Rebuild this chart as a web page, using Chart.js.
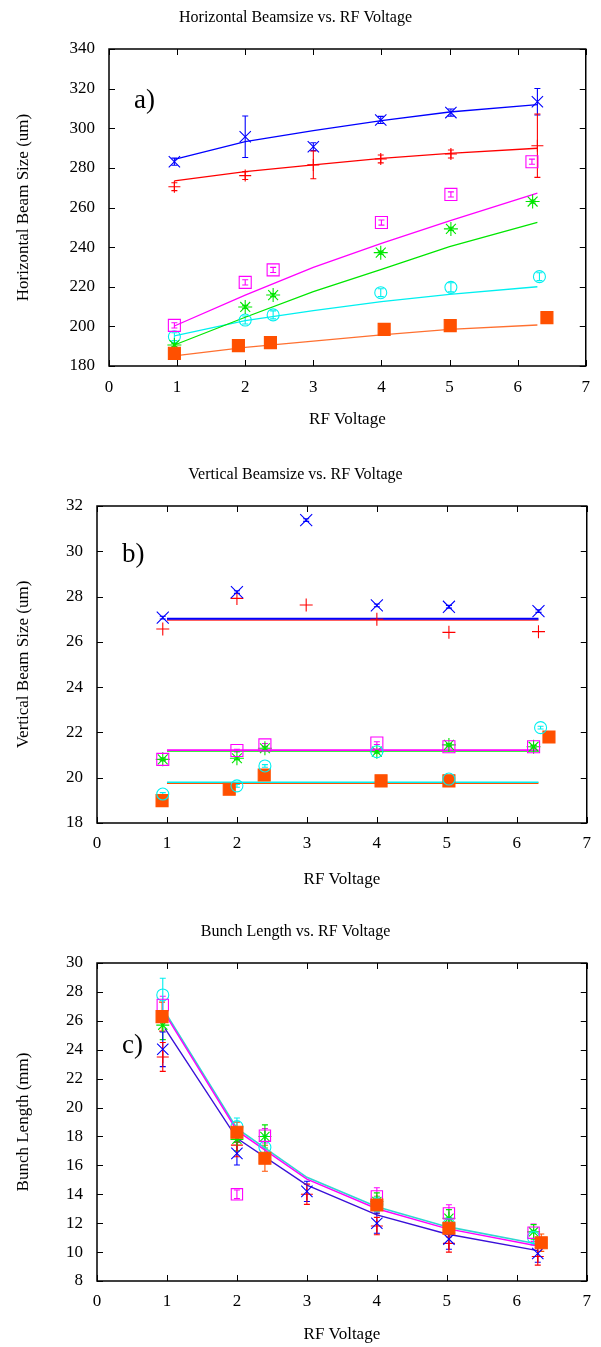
<!DOCTYPE html>
<html lang="en">
<head>
<meta charset="utf-8">
<title>Beamsize and Bunch Length vs. RF Voltage</title>
<script src="https://cdn.jsdelivr.net/npm/chart.js@4.4.0/dist/chart.umd.min.js"></script>
<style>
  body { margin: 0; background: #fff; }
  #page { position: relative; width: 601px; height: 1347px; }
  .panel { position: absolute; left: 0; width: 601px; }
</style>
</head>
<body>
<div id="page">
  <div class="panel" style="top:0;height:440px"><canvas id="chartA"></canvas></div>
  <div class="panel" style="top:456px;height:440px"><canvas id="chartB"></canvas></div>
  <div class="panel" style="top:913px;height:434px"><canvas id="chartC"></canvas></div>
</div>
<script>
// ---- data: a) horizontal beam size (um)
var hBlueX = [0.96, 2.0, 3.0, 3.99, 5.02, 6.29];
var hBlue = [283.1, 295.7, 290.7, 304.2, 307.9, 313.4];
var hBlueErr = [1.8, 10.5, 2, 1.8, 1.8, 6.7];
var hRedX = [0.96, 2.0, 3.0, 3.99, 5.02, 6.29];
var hRed = [270.5, 276.1, 281.5, 284.5, 287.0, 291.2];
var hRedErr = [2, 2, 7, 2, 2, 16];
var hMagX = [0.96, 2.0, 2.41, 4.0, 5.02, 6.21];
var hMag = [200.5, 222.2, 228.5, 252.4, 266.6, 283.1];
var hMagErr = [1.3, 1.3, 1.3, 1.3, 1.3, 1.3];
var hGreenX = [0.96, 2.0, 2.41, 3.99, 5.02, 6.22];
var hGreen = [190.6, 209.8, 215.8, 237.2, 249.2, 263.0];
var hGreenErr = [0.8, 0.8, 0.8, 0.8, 0.8, 0.8];
var hCyanX = [0.96, 2.0, 2.41, 3.99, 5.02, 6.32];
var hCyan = [194.8, 203.2, 205.8, 217.0, 219.7, 225.1];
var hCyanErr = [2, 2, 2, 2, 2.3, 2];
var hOrangeX = [0.96, 1.9, 2.37, 4.04, 5.01, 6.43];
var hOrange = [186.4, 190.3, 191.8, 198.5, 200.4, 204.4];
var hFitX = [0.96, 2, 3, 4, 5, 6.29];
var hBlueFit = [284.3, 293.2, 298.8, 303.8, 308.2, 311.9];
var hRedFit = [273.4, 278.1, 281.5, 284.8, 287.3, 289.9];
var hMagFit = [200.2, 215.8, 229.8, 241.9, 253.2, 267.2];
var hGreenFit = [190.6, 204.6, 217.5, 228.8, 240.2, 252.5];
var hCyanFit = [195.2, 202.9, 207.9, 212.5, 216.2, 220.0];
var hOrangeFit = [185.1, 189.4, 192.6, 195.7, 198.5, 200.7];

// ---- data: b) vertical beam size (um)
var vBlueX = [0.94, 2.0, 2.99, 4.0, 5.03, 6.31];
var vBlue = [27.07, 28.2, 31.38, 27.61, 27.55, 27.36];
var vRed = [26.57, 27.92, 27.63, 27.0, 26.42, 26.45];
var vMagX = [0.94, 2.0, 2.4, 4.0, 5.03, 6.24];
var vMag = [20.81, 21.2, 21.45, 21.53, 21.37, 21.37];
var vGreen = [20.81, 20.86, 21.3, 21.15, 21.45, 21.37];
var vCyanX = [0.94, 2.0, 2.4, 4.0, 5.03, 6.34];
var vCyan = [19.28, 19.64, 20.52, 21.15, 19.94, 22.21];
var vOrangeX = [0.93, 1.89, 2.39, 4.06, 5.03, 6.46];
var vOrange = [18.99, 19.49, 20.12, 19.86, 19.86, 21.8];
var vSmallErr = [0.06, 0.06, 0.06, 0.06, 0.06, 0.06];
var vFitX = [1.0, 6.31];
var vBlueFit = [27.02, 27.02];
var vRedFit = [26.96, 26.96];
var vMagFit = [21.22, 21.22];
var vGreenFit = [21.18, 21.18];
var vCyanFit = [19.8, 19.8];
var vOrangeFit = [19.76, 19.76];

// ---- data: c) bunch length (mm)
var bBlueX = [0.94, 2.0, 3.0, 4.0, 5.03, 6.3];
var bBlue = [24.03, 16.83, 14.2, 12.0, 10.9, 9.9];
var bBlueErr = [1.2, 0.8, 0.7, 0.7, 0.7, 0.6];
var bRed = [23.5, 17.4, 14.0, 11.8, 10.6, 9.7];
var bRedErr = [1.0, 0.8, 0.7, 0.6, 0.6, 0.6];
var bMagX = [0.94, 2.0, 2.4, 4.0, 5.03, 6.24];
var bMag = [27.1, 14.0, 18.05, 13.85, 12.68, 11.34];
var bMagErr = [0.6, 0.3, 0.5, 0.6, 0.6, 0.6];
var bGreen = [25.7, 17.8, 18.0, 13.5, 12.34, 11.4];
var bGreenErr = [1.0, 0.8, 0.8, 0.6, 0.6, 0.5];
var bCyan = [27.79, 18.68, 17.25, 13.3, 11.9, 11.0];
var bCyanErr = [1.15, 0.6, 0.8, 0.5, 0.5, 0.5];
var bOrangeX = [0.93, 2.0, 2.4, 4.0, 5.03, 6.35];
var bOrange = [26.29, 18.29, 16.49, 13.26, 11.65, 10.65];
var bOrangeErr = [1.0, 0.7, 0.9, 0.6, 0.6, 0.6];
var bFitX = [0.97, 2, 3, 4, 5, 6.3];
var bBlueFit = [25.48, 17.87, 14.64, 12.57, 11.25, 10.1];
var bMagFit = [26.5, 18.4, 15.05, 13.0, 11.62, 10.42];
var bCyanFit = [26.63, 18.56, 15.17, 13.14, 11.76, 10.56];

var xTicks = [0, 1, 2, 3, 4, 5, 6, 7];

// ---- styles
var BLUE = '#0000ff', RED = '#ff0000', MAG = '#ff00ff', GREEN = '#00e600', CYAN = '#00f0f0', ORANGE = '#ff5000';
var SERIF = '"Liberation Serif", "Times New Roman", serif';

function pts(xs, ys) {
  return xs.map(function (x, i) { return { x: x, y: ys[i] }; });
}

function marks(xs, ys, errs, color, style, r, filled) {
  return {
    data: pts(xs, ys),
    errs: errs,
    showLine: false,
    pointStyle: style,
    pointRadius: r,
    pointHoverRadius: r,
    pointBorderWidth: 1.1,
    borderColor: color,
    backgroundColor: filled ? color : 'rgba(0,0,0,0)'
  };
}

function fit(xs, ys, color, w) {
  return {
    data: pts(xs, ys),
    showLine: true,
    pointRadius: 0,
    borderWidth: w || 1.3,
    borderColor: color,
    backgroundColor: color
  };
}

// error bars, drawn under the markers
var errorBars = {
  id: 'errorBars',
  beforeDatasetsDraw: function (chart) {
    var ctx = chart.ctx, xs = chart.scales.x, ys = chart.scales.y;
    ctx.save();
    ctx.lineWidth = 1.1;
    chart.data.datasets.forEach(function (ds) {
      if (!ds.errs) return;
      ctx.strokeStyle = ds.borderColor;
      ds.data.forEach(function (p, i) {
        var e = ds.errs[i];
        if (!e) return;
        var px = xs.getPixelForValue(p.x);
        var y1 = ys.getPixelForValue(p.y + e), y2 = ys.getPixelForValue(p.y - e);
        ctx.beginPath();
        ctx.moveTo(px, y1); ctx.lineTo(px, y2);
        ctx.moveTo(px - 3, y1); ctx.lineTo(px + 3, y1);
        ctx.moveTo(px - 3, y2); ctx.lineTo(px + 3, y2);
        ctx.stroke();
      });
    });
    ctx.restore();
  }
};

// gnuplot style box with inward ticks + panel letter
var frame = {
  id: 'frame',
  afterDraw: function (chart, args, opts) {
    var ctx = chart.ctx, a = chart.chartArea;
    var xs = chart.scales.x, ys = chart.scales.y;
    ctx.save();
    ctx.strokeStyle = '#000';
    ctx.lineWidth = 1.5;
    ctx.strokeRect(a.left, a.top, a.right - a.left, a.bottom - a.top);
    ctx.lineWidth = 1;
    ctx.beginPath();
    xs.ticks.forEach(function (t) {
      var px = Math.round(xs.getPixelForValue(t.value)) + 0.5;
      ctx.moveTo(px, a.bottom); ctx.lineTo(px, a.bottom - 6);
      ctx.moveTo(px, a.top); ctx.lineTo(px, a.top + 6);
    });
    ys.ticks.forEach(function (t) {
      var py = Math.round(ys.getPixelForValue(t.value)) + 0.5;
      ctx.moveTo(a.left, py); ctx.lineTo(a.left + 6, py);
      ctx.moveTo(a.right, py); ctx.lineTo(a.right - 6, py);
    });
    ctx.stroke();
    ctx.fillStyle = '#000';
    ctx.font = '27px ' + SERIF;
    ctx.textAlign = 'left';
    ctx.textBaseline = 'middle';
    ctx.fillText(opts.letter, a.left + 25, a.top + opts.dy);
    ctx.restore();
  }
};

function makePanel(id, cfg) {
  return new Chart(document.getElementById(id), {
    type: 'scatter',
    data: { datasets: cfg.datasets },
    plugins: [errorBars, frame],
    options: {
      responsive: true,
      maintainAspectRatio: false,
      animation: false,
      devicePixelRatio: 1,
      layout: { padding: { left: 0, right: 10, top: 0, bottom: 0 } },
      plugins: {
        legend: { display: false },
        tooltip: { enabled: false },
        title: {
          display: true,
          text: cfg.title,
          color: '#000',
          font: { family: SERIF, size: 16, weight: 'normal', lineHeight: 1.2 },
          padding: { top: cfg.titleTop, bottom: cfg.titleBottom }
        },
        frame: { letter: cfg.letter, dy: cfg.letterDy }
      },
      scales: {
        x: {
          type: 'linear', min: 0, max: 7,
          afterBuildTicks: function (s) { s.ticks = xTicks.map(function (v) { return { value: v }; }); },
          grid: { display: false, drawTicks: false },
          border: { display: false },
          ticks: { color: '#000', padding: cfg.xTickPad, font: { family: SERIF, size: 17, lineHeight: 1.2 } },
          title: {
            display: true, text: 'RF Voltage', color: '#000',
            font: { family: SERIF, size: 17, lineHeight: 1.2 },
            padding: { top: 0, bottom: cfg.xTitleBottom }
          },
          afterFit: function (s) { s.height = cfg.xHeight; }
        },
        y: {
          type: 'linear', min: cfg.yMin, max: cfg.yMax,
          grid: { display: false, drawTicks: false },
          border: { display: false },
          ticks: { stepSize: cfg.yStep, color: '#000', padding: 14, font: { family: SERIF, size: 17, lineHeight: 1.2 } },
          title: {
            display: true, text: cfg.yTitle, color: '#000',
            font: { family: SERIF, size: 17, lineHeight: 1.2 },
            padding: { top: 13, bottom: 0 }
          },
          afterFit: function (s) { s.width = cfg.yWidth; }
        }
      }
    }
  });
}

makePanel('chartA', {
  title: 'Horizontal Beamsize vs. RF Voltage', letter: 'a)', letterDy: 52,
  titleTop: 8, titleBottom: 21.8, xTickPad: 11, xTitleBottom: 10, xHeight: 74, yWidth: 109,
  yMin: 180, yMax: 340, yStep: 20, yTitle: 'Horizontal Beam Size (um)',
  datasets: [
    marks(hOrangeX, hOrange, null, ORANGE, 'rect', 8.5, true),
    marks(hBlueX, hBlue, hBlueErr, BLUE, 'crossRot', 8, false),
    marks(hRedX, hRed, hRedErr, RED, 'cross', 6, false),
    marks(hMagX, hMag, hMagErr, MAG, 'rect', 8.5, false),
    marks(hGreenX, hGreen, hGreenErr, GREEN, 'star', 7, false),
    marks(hCyanX, hCyan, hCyanErr, CYAN, 'circle', 6, false),
    fit(hFitX, hBlueFit, BLUE), fit(hFitX, hRedFit, RED), fit(hFitX, hMagFit, MAG),
    fit(hFitX, hGreenFit, GREEN), fit(hFitX, hCyanFit, CYAN), fit(hFitX, hOrangeFit, '#ff7030')
  ]
});

makePanel('chartB', {
  title: 'Vertical Beamsize vs. RF Voltage', letter: 'b)', letterDy: 49,
  titleTop: 9.4, titleBottom: 21.4, xTickPad: 10, xTitleBottom: 6, xHeight: 73, yWidth: 97,
  yMin: 18, yMax: 32, yStep: 2, yTitle: 'Vertical Beam Size (um)',
  datasets: [
    marks(vBlueX, vBlue, vSmallErr, BLUE, 'crossRot', 8.5, false),
    marks(vBlueX, vRed, null, RED, 'cross', 6.5, false),
    marks(vCyanX, vCyan, vSmallErr, CYAN, 'circle', 6, false),
    marks(vMagX, vMag, vSmallErr, MAG, 'rect', 8.5, false),
    marks(vMagX, vGreen, vSmallErr, GREEN, 'star', 7, false),
    marks(vOrangeX, vOrange, null, ORANGE, 'rect', 8.5, true),
    fit(vFitX, vBlueFit, BLUE, 2), fit(vFitX, vRedFit, '#ff6060', 2),
    fit(vFitX, vMagFit, MAG, 1.6), fit(vFitX, vGreenFit, GREEN, 1.6),
    fit(vFitX, vCyanFit, CYAN, 1.6), fit(vFitX, vOrangeFit, ORANGE, 1.6)
  ]
});

makePanel('chartC', {
  title: 'Bunch Length vs. RF Voltage', letter: 'c)', letterDy: 83,
  titleTop: 9.4, titleBottom: 21.4, xTickPad: 10, xTitleBottom: 2, xHeight: 66, yWidth: 97,
  yMin: 8, yMax: 30, yStep: 2, yTitle: 'Bunch Length (mm)',
  datasets: [
    marks(bOrangeX, bOrange, bOrangeErr, ORANGE, 'rect', 8.5, true),
    marks(bMagX, bMag, bMagErr, MAG, 'rect', 8, false),
    marks(bMagX, bCyan, bCyanErr, CYAN, 'circle', 6, false),
    marks(bMagX, bGreen, bGreenErr, GREEN, 'star', 6.5, false),
    marks(bBlueX, bBlue, bBlueErr, BLUE, 'crossRot', 8, false),
    marks(bBlueX, bRed, bRedErr, RED, 'cross', 6, false),
    fit(bFitX, bBlueFit, '#3a10d8', 1.4),
    fit(bFitX, bMagFit, MAG, 1.4),
    fit(bFitX, bCyanFit, '#30d8d0', 1.6)
  ]
});
</script>
</body>
</html>
